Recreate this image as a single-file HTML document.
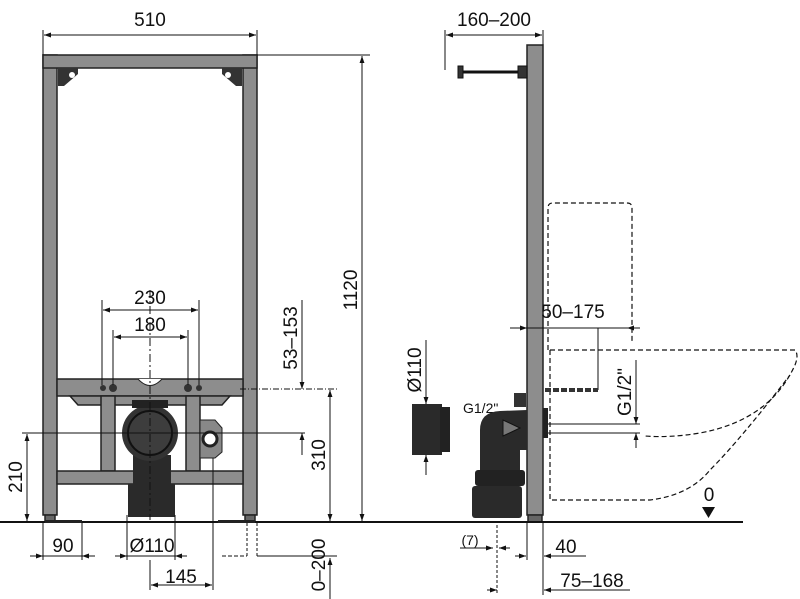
<!DOCTYPE html>
<html><head><meta charset="utf-8"><style>
html,body{margin:0;padding:0;background:#fff;}
svg{display:block;}
text{font-family:"Liberation Sans",sans-serif;fill:#111;}
</style></head><body>
<svg width="800" height="599" viewBox="0 0 800 599" xmlns="http://www.w3.org/2000/svg">
<defs>
<marker id="a" viewBox="0 0 10 10" refX="10" refY="5" markerWidth="9" markerHeight="7" orient="auto-start-reverse"><path d="M0,1.5 L10,5 L0,8.5 z" fill="#111"/></marker>
</defs>
<g stroke="#222" stroke-width="1.5" fill="#8d8d8d">
<rect x="43" y="55" width="14" height="460"/>
<rect x="243" y="55" width="14" height="460"/>
<rect x="43" y="55" width="214" height="13"/>
<rect x="57" y="379" width="186" height="17"/>
<path d="M70,396 L230,396 L222,405 L78,405 z"/>
<rect x="101" y="396" width="14" height="75"/>
<rect x="186" y="396" width="14" height="75"/>
<rect x="57" y="471" width="186" height="13"/>
<rect x="45" y="515" width="10" height="7" fill="#666"/>
<rect x="245" y="515" width="10" height="7" fill="#666"/>
<rect x="527" y="45" width="16" height="470"/>
<rect x="528" y="515" width="14" height="7" fill="#666"/>
</g>
<g fill="#333"><path d="M58,68 L78,68 L78,74 L64,86 L58,86z"/><path d="M242,68 L222,68 L222,74 L236,86 L242,86z"/>
<circle cx="72" cy="75" r="3" fill="#fff"/><circle cx="228" cy="75" r="3" fill="#fff"/></g>
<path d="M138,379 Q150,392 162,379" fill="#fff" stroke="#222"/>
<g fill="#333"><circle cx="103" cy="388" r="3"/><circle cx="113" cy="388" r="4"/><circle cx="188" cy="388" r="4"/><circle cx="199" cy="388" r="3"/></g>
<rect x="133" y="455" width="38" height="30" fill="#2a2a2a"/>
<rect x="128" y="484" width="47" height="33" fill="#2a2a2a"/>
<circle cx="150" cy="433" r="28" fill="#333"/>
<circle cx="150" cy="433" r="22" fill="#3d3d3d" stroke="#111" stroke-width="2"/>
<rect x="132" y="400" width="36" height="8" fill="#222"/>
<path d="M200,420 L215,420 L222,428 L222,452 L215,458 L200,458z" fill="#888" stroke="#222"/>
<circle cx="210" cy="439" r="7" fill="#fff" stroke="#222" stroke-width="3"/>
<line x1="0" y1="522" x2="743" y2="522" stroke="#111" stroke-width="2"/>
<rect x="45" y="520" width="37" height="3" fill="#222"/><rect x="218" y="520" width="37" height="3" fill="#222"/>
<g stroke="#111" stroke-width="1" fill="none">
<line x1="43" y1="30" x2="43" y2="55"/><line x1="257" y1="30" x2="257" y2="55"/>
<line x1="44" y1="35" x2="256" y2="35" marker-start="url(#a)" marker-end="url(#a)"/>
<line x1="257" y1="55" x2="370" y2="55"/>
<line x1="362" y1="56" x2="362" y2="521" marker-start="url(#a)" marker-end="url(#a)"/>
<line x1="102" y1="300" x2="102" y2="385"/><line x1="199" y1="300" x2="199" y2="385"/>
<line x1="103" y1="310" x2="198" y2="310" marker-start="url(#a)" marker-end="url(#a)"/>
<line x1="113" y1="330" x2="113" y2="385"/><line x1="188" y1="330" x2="188" y2="385"/>
<line x1="114" y1="337" x2="187" y2="337" marker-start="url(#a)" marker-end="url(#a)"/>
<line x1="302" y1="300" x2="302" y2="389" marker-end="url(#a)"/>
<line x1="302" y1="455" x2="302" y2="433" marker-end="url(#a)"/>
<line x1="240" y1="389" x2="337" y2="389" stroke-dasharray="6,2,1,2"/>
<line x1="330" y1="390" x2="330" y2="521" marker-start="url(#a)" marker-end="url(#a)"/>
<line x1="22" y1="433" x2="305" y2="433"/>
<line x1="27" y1="434" x2="27" y2="521" marker-start="url(#a)" marker-end="url(#a)"/>
<line x1="43" y1="522" x2="43" y2="560"/><line x1="82" y1="522" x2="82" y2="560"/>
<line x1="30" y1="556" x2="43" y2="556" marker-end="url(#a)"/><line x1="95" y1="556" x2="82" y2="556" marker-end="url(#a)"/>
<line x1="43" y1="556" x2="82" y2="556"/>
<line x1="127" y1="515" x2="127" y2="560"/><line x1="175" y1="515" x2="175" y2="560"/>
<line x1="115" y1="556" x2="127" y2="556" marker-end="url(#a)"/><line x1="187" y1="556" x2="175" y2="556" marker-end="url(#a)"/>
<line x1="127" y1="556" x2="175" y2="556"/>
<line x1="150" y1="560" x2="150" y2="590"/><line x1="213" y1="458" x2="213" y2="590"/>
<line x1="151" y1="585" x2="212" y2="585" marker-start="url(#a)" marker-end="url(#a)"/>
<line x1="150" y1="290" x2="150" y2="520" stroke-dasharray="8,3,2,3"/>
<line x1="247" y1="523" x2="247" y2="556" stroke-dasharray="3,2"/><line x1="257" y1="523" x2="257" y2="556" stroke-dasharray="3,2"/>
<line x1="222" y1="556" x2="247" y2="556" stroke-dasharray="4,2"/><line x1="257" y1="556" x2="337" y2="556"/>
<line x1="330" y1="599" x2="330" y2="558" marker-end="url(#a)"/>
</g>
<g font-size="19">
<text x="150" y="26" text-anchor="middle">510</text>
<text x="150" y="304" text-anchor="middle">230</text>
<text x="150" y="331" text-anchor="middle">180</text>
<text x="63" y="552" text-anchor="middle">90</text>
<text x="152" y="552" text-anchor="middle">Ø110</text>
<text x="181" y="583" text-anchor="middle">145</text>
<text transform="translate(357,290) rotate(-90)" text-anchor="middle">1120</text>
<text transform="translate(297,338) rotate(-90)" text-anchor="middle">53–153</text>
<text transform="translate(325,455) rotate(-90)" text-anchor="middle">310</text>
<text transform="translate(22,477) rotate(-90)" text-anchor="middle">210</text>
<text transform="translate(325,565) rotate(-90)" text-anchor="middle">0–200</text>
</g>
<g stroke="#111" stroke-width="1" fill="none">
<line x1="460" y1="72" x2="527" y2="72" stroke-width="3"/>
<rect x="458" y="66" width="5" height="12" fill="#333"/><rect x="518" y="66" width="9" height="12" fill="#333"/>
<line x1="445" y1="30" x2="445" y2="70"/><line x1="543" y1="30" x2="543" y2="45"/>
<line x1="446" y1="35" x2="542" y2="35" marker-start="url(#a)" marker-end="url(#a)"/>
<g stroke-dasharray="5,3" stroke-width="1.2">
<path d="M548,350 L548,208 Q548,203 553,203 L627,203 Q632,203 632,208 L632,342"/>
<path d="M550,350 L795,350 Q799,355 795,365 Q770,420 700,433 Q670,438 645,436"/>
<path d="M550,350 L550,500 L650,500 Q690,495 710,470 Q740,440 790,375"/>
</g>
<line x1="510" y1="328" x2="527" y2="328" marker-end="url(#a)"/><line x1="527" y1="328" x2="627" y2="328"/>
<line x1="640" y1="328" x2="627" y2="328" marker-end="url(#a)"/>
<line x1="598" y1="328" x2="598" y2="390"/>
<line x1="543" y1="424" x2="640" y2="424"/><line x1="543" y1="433" x2="640" y2="433"/>
<line x1="636" y1="360" x2="636" y2="424" marker-end="url(#a)"/>
<line x1="636" y1="448" x2="636" y2="433" marker-end="url(#a)"/>
<line x1="497" y1="525" x2="497" y2="595" stroke-dasharray="3,2"/>
<line x1="527" y1="523" x2="527" y2="560"/><line x1="543" y1="523" x2="543" y2="595"/>
<line x1="460" y1="548" x2="493" y2="548" marker-end="url(#a)"/><line x1="510" y1="548" x2="499" y2="548" marker-end="url(#a)"/>
<line x1="515" y1="556" x2="526" y2="556" marker-end="url(#a)"/><line x1="586" y1="556" x2="544" y2="556" marker-end="url(#a)"/>
<line x1="487" y1="590" x2="497" y2="590" marker-end="url(#a)"/><line x1="630" y1="590" x2="544" y2="590" marker-end="url(#a)"/>
<line x1="426" y1="340" x2="426" y2="404" marker-end="url(#a)"/>
<line x1="426" y1="475" x2="426" y2="455" marker-end="url(#a)"/>
</g>
<line x1="545" y1="390" x2="598" y2="390" stroke="#333" stroke-width="4" stroke-dasharray="6,2"/>
<rect x="412" y="404" width="30" height="51" fill="#2a2a2a"/><rect x="440" y="407" width="10" height="45" fill="#222"/>
<path d="M480,430 Q480,412 500,411 L527,410 L527,450 L520,450 L520,470 L480,470 z" fill="#2a2a2a"/>
<rect x="475" y="470" width="50" height="16" fill="#222" rx="3"/>
<rect x="472" y="486" width="50" height="32" fill="#2a2a2a" rx="3"/>
<rect x="514" y="393" width="12" height="14" fill="#333"/>
<path d="M503,420 L520,428 L503,436z" fill="#777" stroke="#111"/>
<rect x="543" y="408" width="5" height="30" fill="#222"/>
<path d="M702,507 L715,507 L708.5,518z" fill="#111"/>
<g font-size="19">
<text x="494" y="26" text-anchor="middle">160–200</text>
<text x="573" y="318" text-anchor="middle">50–175</text>
<text x="566" y="553" text-anchor="middle">40</text>
<text x="592" y="587" text-anchor="middle">75–168</text>
<text x="709" y="501" text-anchor="middle">0</text>
<text transform="translate(421,370) rotate(-90)" text-anchor="middle">Ø110</text>
<text transform="translate(631,392) rotate(-90)" text-anchor="middle">G1/2"</text>
</g>
<text x="463" y="413" font-size="14">G1/2"</text>
<text x="470" y="545" font-size="14" text-anchor="middle">(7)</text>
</svg>
</body></html>
